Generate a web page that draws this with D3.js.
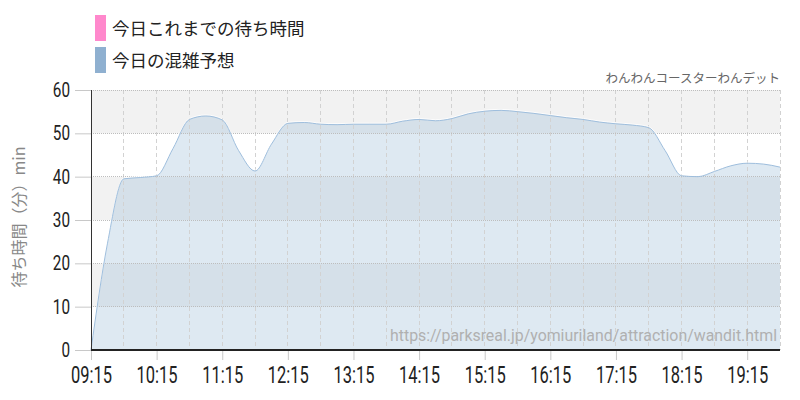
<!DOCTYPE html>
<html><head><meta charset="utf-8">
<script src="https://cdn.jsdelivr.net/npm/d3@7"></script>
<style>
html,body{margin:0;padding:0;background:#fff;}
svg{display:block;}
</style></head>
<body>
<svg id="chart" width="800" height="400"></svg>
<script>
const times = ["09:15","09:30","09:45","10:00","10:15","10:30","10:45","11:00","11:15","11:30","11:45","12:00","12:15","12:30","12:45","13:00","13:15","13:30","13:45","14:00","14:15","14:30","14:45","15:00","15:15","15:30","15:45","16:00","16:15","16:30","16:45","17:00","17:15","17:30","17:45","18:00","18:15","18:30","18:45","19:00","19:15","19:30","19:45"];
const forecast = [0,24.5,39.5,39.8,40.2,46.5,53.2,54,53.1,46,41.3,47.5,52.3,52.5,52.1,52,52.1,52.1,52.1,52.8,53.2,52.9,53.4,54.5,55.1,55.3,55,54.6,54.1,53.6,53.2,52.6,52.2,51.9,51.3,46,40.2,40,41.2,42.5,43.1,42.9,42.2];
const xTickLabels = ["09:15","10:15","11:15","12:15","13:15","14:15","15:15","16:15","17:15","18:15","19:15"];
const yTicks = [0,10,20,30,40,50,60];
const legendLabels = ["今日これまでの待ち時間","今日の混雑予想"];
const legendColors = ["#ff88cc","#8fb0d0"];
const title = "わんわんコースターわんデット";
const yLabel = "待ち時間（分）min";
const urlText = "https://parksreal.jp/yomiuriland/attraction/wandit.html";

const parse = d3.timeParse("%H:%M");
const data = times.map((t,i)=>({t:parse(t), v:forecast[i]}));

const L=91, R=780, T=90, B=350;
const svg = d3.select("#chart");
const x = d3.scaleTime().domain([parse("09:15"), parse("19:45")]).range([L,R]);
const y = d3.scaleLinear().domain([0,60]).range([B,T]);

// alternating bands
const bands = d3.range(0, yTicks.length-1).map(i=>[yTicks[i], yTicks[i+1]]);
svg.append("g").selectAll("rect").data(bands).join("rect")
  .attr("x", L).attr("width", R-L)
  .attr("y", d=>y(d[1])).attr("height", d=>y(d[0])-y(d[1]))
  .attr("fill", (d,i)=> i%2===1 ? "#f2f2f2" : "#ffffff");

// area
const area = d3.area().x(d=>x(d.t)).y0(y(0)).y1(d=>y(d.v)).curve(d3.curveMonotoneX);
svg.append("path").datum(data).attr("d", area)
  .attr("fill", "rgb(160,192,218)").attr("fill-opacity", 0.35);

// vertical grid every 30 min
const gridTimes = d3.timeMinute.range(parse("09:45"), d3.timeMinute.offset(parse("19:45"),1), 30);
svg.append("g").selectAll("line").data(gridTimes).join("line")
  .attr("x1", d=>x(d)).attr("x2", d=>x(d)).attr("y1", T).attr("y2", B)
  .attr("stroke", "#d2d2d2").attr("stroke-width", 1).attr("stroke-dasharray", "4,3")
  .attr("shape-rendering","crispEdges");

// horizontal grid
svg.append("g").selectAll("line").data(yTicks.filter(v=>v>0)).join("line")
  .attr("x1", L).attr("x2", R).attr("y1", d=>y(d)).attr("y2", d=>y(d))
  .attr("stroke", "#bdbdbd").attr("stroke-width", 1).attr("stroke-dasharray", "1,1")
  .attr("shape-rendering","crispEdges");

// line with highlight
const line = d3.line().x(d=>x(d.t)).y(d=>y(d.v)).curve(d3.curveMonotoneX);
svg.append("path").datum(data).attr("d", line)
  .attr("transform","translate(0,-1)")
  .attr("fill","none").attr("stroke","#ffffff").attr("stroke-opacity",0.8).attr("stroke-width",1);
svg.append("path").datum(data).attr("d", line)
  .attr("fill","none").attr("stroke","#9ebedd").attr("stroke-width",1);

// url text
svg.append("text").attr("x", 777).attr("y", 341).attr("text-anchor","end")
  .attr("font-family","Roboto, 'Noto Sans', sans-serif").attr("font-size", 16)
  .attr("fill","#b0b0b0").attr("textLength",387).attr("lengthAdjust","spacingAndGlyphs").text(urlText);

// y axis
const yAxis = d3.axisLeft(y).tickValues(yTicks).tickSize(16).tickPadding(5).tickFormat(d3.format("d"));
const gy = svg.append("g").attr("transform",`translate(${L},0)`).call(yAxis);
gy.select(".domain").remove();
gy.selectAll(".tick line").attr("stroke","#c8c8c8");
gy.selectAll(".tick text").attr("font-family","Roboto, sans-serif").attr("font-weight",400)
  .attr("font-size",20).attr("fill","#222")
  .attr("textLength", d=> String(d).length*8.6).attr("lengthAdjust","spacingAndGlyphs");

// x axis
const xAxis = d3.axisBottom(x).tickValues(xTickLabels.map(parse)).tickSize(10).tickPadding(7).tickFormat(d3.timeFormat("%H:%M"));
const gx = svg.append("g").attr("transform",`translate(0,${B})`).call(xAxis);
gx.select(".domain").remove();
gx.selectAll(".tick line").attr("stroke","#c8c8c8");
gx.selectAll(".tick text").attr("font-family","Roboto, sans-serif").attr("font-weight",400)
  .attr("font-size",23).attr("fill","#222")
  .attr("textLength", 41).attr("lengthAdjust","spacingAndGlyphs");

// axis lines
svg.append("line").attr("x1",L).attr("x2",L).attr("y1",T).attr("y2",B+0.5).attr("stroke","#333").attr("stroke-width",1).attr("shape-rendering","crispEdges");
svg.append("line").attr("x1",L).attr("x2",R).attr("y1",B).attr("y2",B).attr("stroke","#222").attr("stroke-width",1.2).attr("shape-rendering","crispEdges");

// y label
svg.append("text").attr("transform",`translate(25,217) rotate(-90)`).attr("text-anchor","middle")
  .attr("font-family","'Noto Sans CJK JP', sans-serif").attr("font-size",16).attr("fill","#888").text(yLabel);

// title
svg.append("text").attr("x",780).attr("y",83).attr("text-anchor","end")
  .attr("font-family","'Noto Sans CJK JP', sans-serif").attr("font-size",12.5).attr("fill","#666")
  .text(title);

// legend
const lg = svg.append("g").selectAll("g").data(legendLabels).join("g")
  .attr("transform",(d,i)=>`translate(95,${15+i*32})`);
lg.append("rect").attr("width",11).attr("height",26).attr("fill",(d,i)=>legendColors[i]);
lg.append("text").attr("x",17).attr("y",20).attr("font-family","'Noto Sans CJK JP', sans-serif")
  .attr("font-size",17.5).attr("fill","#222").text(d=>d);
</script>
</body></html>
